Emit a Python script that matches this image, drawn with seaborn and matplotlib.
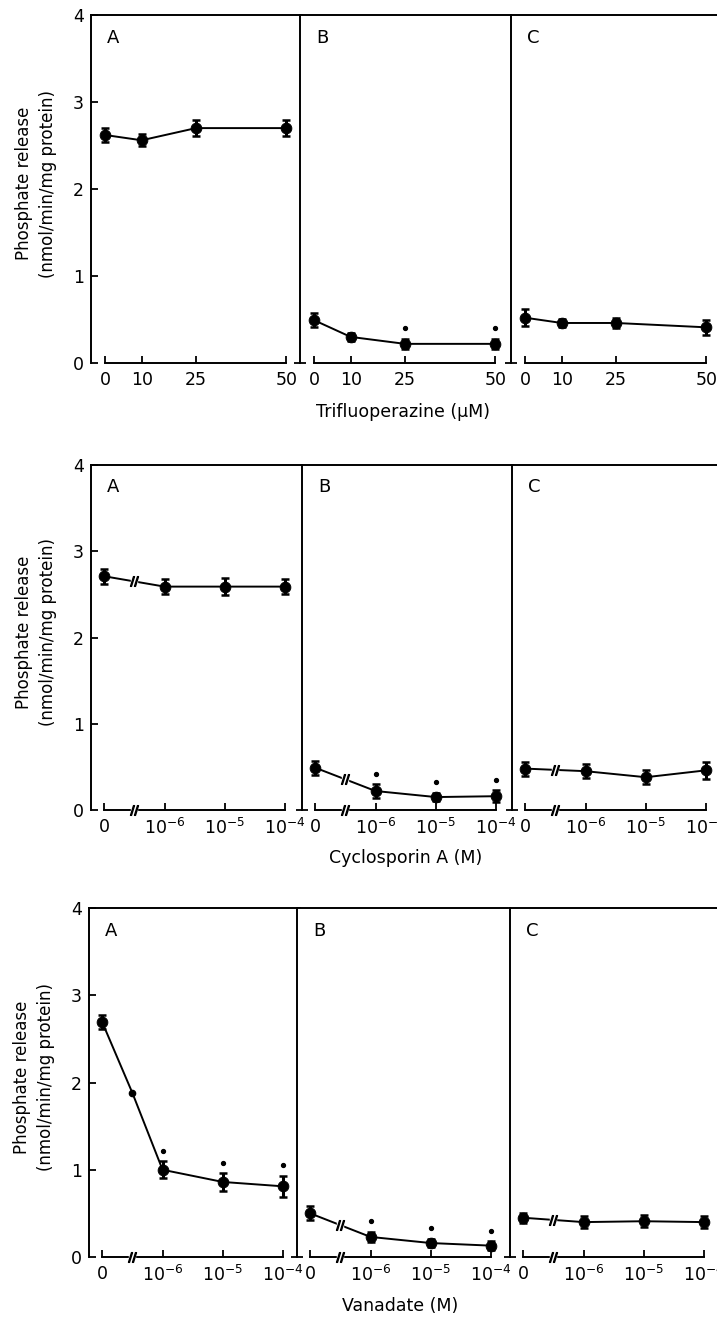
import numpy as np
import pandas as pd
import matplotlib
matplotlib.use("Agg")
import matplotlib.pyplot as plt
import seaborn as sns

# ---------------- data ----------------
panel_letters = ["A", "B", "C"]

# Row 1: Trifluoperazine (uM)
tfp_conc = [0, 10, 25, 50]
tfp_ticklabels = ["0", "10", "25", "50"]
tfp_A = [2.62, 2.56, 2.70, 2.70]
tfp_A_err = [0.08, 0.07, 0.09, 0.09]
tfp_A_sig = [False, False, False, False]
tfp_B = [0.49, 0.30, 0.22, 0.22]
tfp_B_err = [0.08, 0.05, 0.06, 0.06]
tfp_B_sig = [False, False, True, True]
tfp_C = [0.52, 0.46, 0.46, 0.41]
tfp_C_err = [0.10, 0.05, 0.06, 0.09]
tfp_C_sig = [False, False, False, False]

# Rows 2 and 3: concentration (M); "0" is drawn one decade left of 10^-6
log_pos = [-7, -6, -5, -4]
log_ticklabels = ["0", r"$10^{-6}$", r"$10^{-5}$", r"$10^{-4}$"]
break_pos = -6.5

# Row 2: Cyclosporin A (M)
csa_A = [2.71, 2.59, 2.59, 2.59]
csa_A_err = [0.09, 0.09, 0.10, 0.09]
csa_A_sig = [False, False, False, False]
csa_B = [0.49, 0.22, 0.15, 0.16]
csa_B_err = [0.08, 0.08, 0.05, 0.07]
csa_B_sig = [False, True, True, True]
csa_C = [0.48, 0.45, 0.38, 0.46]
csa_C_err = [0.08, 0.08, 0.08, 0.10]
csa_C_sig = [False, False, False, False]

# Row 3: Vanadate (M)
van_A = [2.69, 1.00, 0.86, 0.81]
van_A_err = [0.08, 0.10, 0.10, 0.12]
van_A_sig = [False, True, True, True]
van_A_mid = 1.88          # small point drawn at the axis break
van_B = [0.50, 0.23, 0.16, 0.13]
van_B_err = [0.08, 0.06, 0.05, 0.05]
van_B_sig = [False, True, True, True]
van_C = [0.45, 0.40, 0.41, 0.40]
van_C_err = [0.06, 0.07, 0.07, 0.07]
van_C_sig = [False, False, False, False]

row_xlabels = ["Trifluoperazine (μM)", "Cyclosporin A (M)", "Vanadate (M)"]
ylabel_text = "Phosphate release\n(nmol/min/mg protein)"

# ---------------- style ----------------
sns.set_style("ticks")
plt.rcParams["font.family"] = ["DejaVu Sans"]
plt.rcParams["mathtext.fontset"] = "dejavusans"
for k in ["text.color", "axes.labelcolor", "xtick.color", "ytick.color", "axes.edgecolor"]:
    plt.rcParams[k] = "black"

W, H = 717, 1321
fig = plt.figure(figsize=(W / 100, H / 100), dpi=100)

# pixel layout: (top, zero-line, [left edges A, B, C])
rows_px = [
    (15, 363, [91, 300, 511]),
    (465, 810, [91, 302, 512]),
    (908, 1257, [89, 297, 510]),
]
panel_w_px = 211

rows = [
    dict(x=tfp_conc, labels=tfp_ticklabels, xlim=(-4.0, 54.3), brk=False,
         ys=[tfp_A, tfp_B, tfp_C], errs=[tfp_A_err, tfp_B_err, tfp_C_err],
         sigs=[tfp_A_sig, tfp_B_sig, tfp_C_sig], mid=[None, None, None]),
    dict(x=log_pos, labels=log_ticklabels, xlim=(-7.22, -3.72), brk=True,
         ys=[csa_A, csa_B, csa_C], errs=[csa_A_err, csa_B_err, csa_C_err],
         sigs=[csa_A_sig, csa_B_sig, csa_C_sig], mid=[None, None, None]),
    dict(x=log_pos, labels=log_ticklabels, xlim=(-7.22, -3.72), brk=True,
         ys=[van_A, van_B, van_C], errs=[van_A_err, van_B_err, van_C_err],
         sigs=[van_A_sig, van_B_sig, van_C_sig], mid=[van_A_mid, None, None]),
]

LW = 1.4
for r, (row, (top, zero, lefts)) in enumerate(zip(rows, rows_px)):
    for c in range(3):
        left = lefts[c]
        ax = fig.add_axes([left / W, 1 - zero / H, panel_w_px / W, (zero - top) / H])
        x = list(row["x"])
        y = list(row["ys"][c])
        err = row["errs"][c]
        sig = row["sigs"][c]
        mid = row["mid"][c]

        # line
        lx, ly = list(x), list(y)
        if mid is not None:
            lx = [x[0], break_pos] + x[1:]
            ly = [y[0], mid] + y[1:]
        df_line = pd.DataFrame({"conc": lx, "rate": ly})
        sns.lineplot(data=df_line, x="conc", y="rate", ax=ax, color="black",
                     lw=LW, estimator=None, sort=False, legend=False)
        # error bars + markers
        ax.errorbar(x, y, yerr=err, fmt="none", ecolor="black", elinewidth=2.2,
                    capsize=2.8, capthick=1.8, zorder=3)
        df_pts = pd.DataFrame({"conc": x, "rate": y})
        sns.scatterplot(data=df_pts, x="conc", y="rate", ax=ax, color="black",
                        s=60, edgecolor="black", zorder=4, legend=False)
        if mid is not None:
            ax.plot([break_pos], [mid], "o", color="black", ms=4.5, zorder=4)

        # significance dots
        sx = [xi for xi, s in zip(x, sig) if s]
        sy = [yi + ei + 0.12 for yi, ei, s in zip(y, err, sig) if s]
        if sx:
            ax.plot(sx, sy, "o", color="black", ms=2.8, ls="none")

        # break marks
        if row["brk"]:
            ax.plot([break_pos], [0], marker="s", ms=4, color="white",
                    clip_on=False, zorder=4.5, ls="none")
            ax.plot([break_pos], [0], marker=r"$//$", ms=7, color="black",
                    clip_on=False, zorder=5, ls="none")
            if mid is None:
                yb = np.interp(break_pos, x[:2], y[:2])
                ax.plot([break_pos], [yb], marker="s", ms=4, color="white",
                        zorder=4.5, ls="none")
                ax.plot([break_pos], [yb], marker=r"$//$", ms=7, color="black",
                        zorder=5, ls="none")

        # axes
        ax.set_xlim(*row["xlim"])
        ax.set_ylim(0, 4)
        ax.set_xlabel("")
        ax.set_ylabel("")
        ax.spines["right"].set_visible(False)
        for s in ["top", "left", "bottom"]:
            ax.spines[s].set_visible(True)
            ax.spines[s].set_linewidth(LW)
            ax.spines[s].set_color("black")
        ax.spines["bottom"].set_bounds(x[0], x[-1])
        ax.set_xticks(x)
        ax.set_xticklabels(row["labels"])
        ax.tick_params(axis="x", which="both", bottom=True, top=False,
                       direction="in", length=5, width=1.3,
                       pad=6, labelsize=12.5, colors="black")
        if c == 0:
            ax.set_yticks([0, 1, 2, 3, 4])
            ax.set_yticklabels(["0", "1", "2", "3", "4"])
            ax.tick_params(axis="y", left=True, right=False, direction="in",
                           length=5, width=1.3, pad=5, labelsize=12.5,
                           colors="black")
            ax.text(-0.26, 0.515, ylabel_text, transform=ax.transAxes,
                    rotation=90, ha="center", va="center", fontsize=12,
                    linespacing=1.45, multialignment="center")
        else:
            ax.set_yticks([0])
            ax.set_yticklabels([])
            ax.tick_params(axis="y", left=True, right=False, direction="inout",
                           length=8, width=1.3)
        if c == 1:
            ax.text(0.49, -0.14, row_xlabels[r], transform=ax.transAxes,
                    ha="center", va="center", fontsize=12.5)
        ax.text(0.105, 0.935, panel_letters[c], transform=ax.transAxes,
                ha="center", va="center", fontsize=13)

fig.savefig("out.png", dpi=100)
